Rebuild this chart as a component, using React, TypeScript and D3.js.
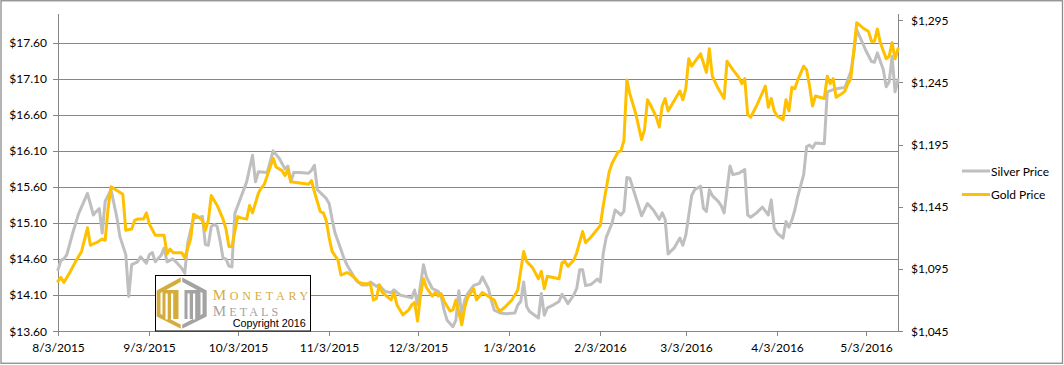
import React from "react";
import * as d3 from "d3";

const silverPrices: [string, number][] = [
  ["2015-08-03", 14.45], ["2015-08-04", 14.58], ["2015-08-05", 14.6], ["2015-08-06", 14.66], ["2015-08-08", 14.96],
  ["2015-08-10", 15.23], ["2015-08-13", 15.51], ["2015-08-15", 15.21], ["2015-08-16", 15.26], ["2015-08-17", 15.3],
  ["2015-08-18", 14.96], ["2015-08-19", 15.4], ["2015-08-21", 15.56], ["2015-08-23", 15.17], ["2015-08-24", 14.91],
  ["2015-08-26", 14.66], ["2015-08-27", 14.08], ["2015-08-28", 14.52], ["2015-08-30", 14.56], ["2015-08-31", 14.63],
  ["2015-09-02", 14.54], ["2015-09-03", 14.66], ["2015-09-04", 14.69], ["2015-09-05", 14.56], ["2015-09-07", 14.65],
  ["2015-09-08", 14.75], ["2015-09-09", 14.56], ["2015-09-11", 14.6], ["2015-09-12", 14.56], ["2015-09-14", 14.47],
  ["2015-09-15", 14.4], ["2015-09-16", 14.82], ["2015-09-18", 15.17], ["2015-09-20", 15.18], ["2015-09-21", 15.19],
  ["2015-09-22", 14.8], ["2015-09-23", 14.79], ["2015-09-24", 15.05], ["2015-09-25", 15.08], ["2015-09-26", 15.05],
  ["2015-09-27", 14.85], ["2015-09-28", 14.61], ["2015-09-29", 14.6], ["2015-09-30", 14.5],
  ["2015-10-01", 14.49], ["2015-10-02", 15.23], ["2015-10-04", 15.45], ["2015-10-06", 15.67], ["2015-10-08", 16.04],
  ["2015-10-09", 15.67], ["2015-10-10", 15.81], ["2015-10-13", 15.8], ["2015-10-15", 16.1], ["2015-10-17", 16.0],
  ["2015-10-19", 15.85], ["2015-10-20", 15.89], ["2015-10-21", 15.67], ["2015-10-22", 15.8], ["2015-10-24", 15.8],
  ["2015-10-27", 15.79], ["2015-10-28", 15.83], ["2015-10-29", 15.9], ["2015-10-30", 15.56], ["2015-10-31", 15.52],
  ["2015-11-02", 15.44], ["2015-11-03", 15.37], ["2015-11-04", 15.15], ["2015-11-05", 14.96], ["2015-11-07", 14.73],
  ["2015-11-08", 14.61], ["2015-11-09", 14.52], ["2015-11-11", 14.38], ["2015-11-12", 14.31], ["2015-11-14", 14.24],
  ["2015-11-16", 14.24], ["2015-11-17", 14.28], ["2015-11-19", 14.22], ["2015-11-20", 14.24], ["2015-11-21", 14.19],
  ["2015-11-22", 14.15], ["2015-11-24", 14.13], ["2015-11-25", 14.17], ["2015-11-27", 14.1], ["2015-11-30", 14.07],
  ["2015-12-01", 14.06], ["2015-12-02", 14.17], ["2015-12-03", 13.96], ["2015-12-05", 14.52], ["2015-12-06", 14.35],
  ["2015-12-08", 14.19], ["2015-12-10", 14.15], ["2015-12-11", 14.08], ["2015-12-12", 13.89], ["2015-12-13", 13.75],
  ["2015-12-15", 13.66], ["2015-12-16", 13.75], ["2015-12-17", 14.16], ["2015-12-18", 13.82], ["2015-12-19", 14.03],
  ["2015-12-20", 14.12], ["2015-12-22", 14.23], ["2015-12-24", 14.26], ["2015-12-25", 14.35], ["2015-12-27", 14.19],
  ["2015-12-28", 14.03], ["2015-12-29", 13.89], ["2015-12-31", 13.85],
  ["2016-01-02", 13.84], ["2016-01-05", 13.85], ["2016-01-06", 13.96], ["2016-01-07", 14.01], ["2016-01-08", 14.28],
  ["2016-01-09", 13.94], ["2016-01-10", 13.87], ["2016-01-13", 13.78], ["2016-01-14", 14.12], ["2016-01-15", 13.82],
  ["2016-01-16", 13.92], ["2016-01-18", 13.96], ["2016-01-20", 14.01], ["2016-01-21", 14.11], ["2016-01-22", 14.05],
  ["2016-01-23", 13.98], ["2016-01-25", 14.1], ["2016-01-26", 14.19], ["2016-01-27", 14.45], ["2016-01-28", 14.45],
  ["2016-01-29", 14.23], ["2016-01-31", 14.25],
  ["2016-02-02", 14.32], ["2016-02-03", 14.28], ["2016-02-04", 14.68], ["2016-02-05", 14.9], ["2016-02-07", 15.1],
  ["2016-02-08", 15.28], ["2016-02-10", 15.21], ["2016-02-11", 15.26], ["2016-02-12", 15.73], ["2016-02-13", 15.72],
  ["2016-02-15", 15.46], ["2016-02-17", 15.2], ["2016-02-19", 15.37], ["2016-02-21", 15.28], ["2016-02-23", 15.15],
  ["2016-02-24", 15.24], ["2016-02-25", 15.15], ["2016-02-26", 14.67], ["2016-02-28", 14.75],
  ["2016-03-01", 14.89], ["2016-03-02", 14.79], ["2016-03-03", 14.93], ["2016-03-05", 15.48], ["2016-03-06", 15.56],
  ["2016-03-08", 15.61], ["2016-03-09", 15.3], ["2016-03-10", 15.26], ["2016-03-11", 15.56], ["2016-03-12", 15.48],
  ["2016-03-14", 15.4], ["2016-03-15", 15.34], ["2016-03-16", 15.24], ["2016-03-18", 15.89], ["2016-03-19", 15.77],
  ["2016-03-21", 15.79], ["2016-03-23", 15.84], ["2016-03-24", 15.21], ["2016-03-25", 15.18], ["2016-03-27", 15.24],
  ["2016-03-29", 15.32], ["2016-03-31", 15.21],
  ["2016-04-01", 15.42], ["2016-04-02", 15.03], ["2016-04-03", 14.96], ["2016-04-05", 14.89], ["2016-04-06", 15.12],
  ["2016-04-07", 15.04], ["2016-04-08", 15.14], ["2016-04-09", 15.28], ["2016-04-10", 15.47], ["2016-04-12", 15.77],
  ["2016-04-13", 16.16], ["2016-04-14", 16.18], ["2016-04-15", 16.14], ["2016-04-16", 16.21], ["2016-04-19", 16.2],
  ["2016-04-20", 16.92], ["2016-04-22", 16.95], ["2016-04-24", 16.97], ["2016-04-26", 16.98], ["2016-04-28", 17.2],
  ["2016-04-29", 17.46], ["2016-04-30", 17.78],
  ["2016-05-01", 17.69], ["2016-05-03", 17.5], ["2016-05-05", 17.34], ["2016-05-06", 17.33], ["2016-05-07", 17.46],
  ["2016-05-09", 17.23], ["2016-05-10", 16.99], ["2016-05-11", 17.06], ["2016-05-12", 17.41], ["2016-05-13", 16.92],
  ["2016-05-14", 17.09],
];

const goldPrices: [string, number][] = [
  ["2015-08-03", 1085], ["2015-08-04", 1088], ["2015-08-05", 1084], ["2015-08-07", 1092], ["2015-08-09", 1101],
  ["2015-08-11", 1109], ["2015-08-13", 1128], ["2015-08-14", 1114], ["2015-08-16", 1116], ["2015-08-18", 1119],
  ["2015-08-19", 1118], ["2015-08-20", 1144], ["2015-08-21", 1161], ["2015-08-23", 1158], ["2015-08-25", 1155],
  ["2015-08-26", 1126], ["2015-08-28", 1127], ["2015-08-29", 1134], ["2015-08-30", 1135],
  ["2015-09-01", 1135], ["2015-09-02", 1140], ["2015-09-03", 1131], ["2015-09-05", 1122], ["2015-09-07", 1122],
  ["2015-09-08", 1122], ["2015-09-09", 1107], ["2015-09-10", 1111], ["2015-09-11", 1108], ["2015-09-13", 1108],
  ["2015-09-14", 1108], ["2015-09-15", 1104], ["2015-09-17", 1119], ["2015-09-18", 1139], ["2015-09-20", 1136],
  ["2015-09-21", 1134], ["2015-09-22", 1126], ["2015-09-23", 1134], ["2015-09-24", 1154], ["2015-09-26", 1146],
  ["2015-09-28", 1135], ["2015-09-29", 1127], ["2015-09-30", 1113],
  ["2015-10-01", 1113], ["2015-10-03", 1137], ["2015-10-04", 1136], ["2015-10-06", 1135], ["2015-10-07", 1146],
  ["2015-10-08", 1140], ["2015-10-10", 1156], ["2015-10-11", 1160], ["2015-10-12", 1163], ["2015-10-13", 1170],
  ["2015-10-15", 1184], ["2015-10-16", 1177], ["2015-10-18", 1174], ["2015-10-19", 1170], ["2015-10-20", 1175],
  ["2015-10-21", 1165], ["2015-10-24", 1164], ["2015-10-27", 1163], ["2015-10-28", 1166], ["2015-10-29", 1157],
  ["2015-10-30", 1149], ["2015-10-31", 1141],
  ["2015-11-01", 1140], ["2015-11-02", 1134], ["2015-11-03", 1120], ["2015-11-04", 1109], ["2015-11-06", 1102],
  ["2015-11-07", 1090], ["2015-11-09", 1092], ["2015-11-10", 1091], ["2015-11-12", 1087], ["2015-11-13", 1084],
  ["2015-11-15", 1083], ["2015-11-17", 1083], ["2015-11-18", 1070], ["2015-11-19", 1071], ["2015-11-20", 1082],
  ["2015-11-21", 1076], ["2015-11-24", 1070], ["2015-11-25", 1076], ["2015-11-26", 1066], ["2015-11-28", 1058],
  ["2015-11-30", 1062],
  ["2015-12-01", 1066], ["2015-12-02", 1068], ["2015-12-03", 1053], ["2015-12-04", 1074], ["2015-12-05", 1087],
  ["2015-12-06", 1080], ["2015-12-08", 1073], ["2015-12-09", 1076], ["2015-12-10", 1073], ["2015-12-11", 1075],
  ["2015-12-12", 1069], ["2015-12-14", 1061], ["2015-12-15", 1062], ["2015-12-16", 1070], ["2015-12-18", 1050],
  ["2015-12-19", 1064], ["2015-12-20", 1072], ["2015-12-22", 1079], ["2015-12-23", 1070], ["2015-12-25", 1076],
  ["2015-12-27", 1073], ["2015-12-29", 1070], ["2015-12-30", 1064], ["2015-12-31", 1061],
  ["2016-01-02", 1065], ["2016-01-04", 1070], ["2016-01-06", 1078], ["2016-01-08", 1109], ["2016-01-09", 1101],
  ["2016-01-11", 1096], ["2016-01-13", 1087], ["2016-01-14", 1093], ["2016-01-15", 1079], ["2016-01-16", 1089],
  ["2016-01-18", 1088], ["2016-01-20", 1087], ["2016-01-21", 1100], ["2016-01-22", 1101], ["2016-01-23", 1097],
  ["2016-01-25", 1102], ["2016-01-26", 1108], ["2016-01-28", 1125], ["2016-01-29", 1116], ["2016-01-31", 1121],
  ["2016-02-02", 1127], ["2016-02-03", 1130], ["2016-02-04", 1146], ["2016-02-06", 1173], ["2016-02-07", 1180],
  ["2016-02-09", 1189], ["2016-02-10", 1190], ["2016-02-11", 1198], ["2016-02-12", 1247], ["2016-02-13", 1236],
  ["2016-02-15", 1220], ["2016-02-17", 1199], ["2016-02-18", 1207], ["2016-02-19", 1231], ["2016-02-20", 1227],
  ["2016-02-22", 1217], ["2016-02-23", 1209], ["2016-02-24", 1226], ["2016-02-25", 1232], ["2016-02-26", 1222],
  ["2016-02-28", 1230],
  ["2016-03-01", 1238], ["2016-03-02", 1231], ["2016-03-03", 1240], ["2016-03-04", 1264], ["2016-03-05", 1258],
  ["2016-03-08", 1268], ["2016-03-10", 1253], ["2016-03-11", 1272], ["2016-03-12", 1250], ["2016-03-14", 1240],
  ["2016-03-16", 1232], ["2016-03-17", 1262], ["2016-03-19", 1255], ["2016-03-21", 1249], ["2016-03-22", 1244],
  ["2016-03-23", 1248], ["2016-03-24", 1219], ["2016-03-25", 1217], ["2016-03-27", 1226], ["2016-03-30", 1242],
  ["2016-03-31", 1225],
  ["2016-04-01", 1232], ["2016-04-02", 1222], ["2016-04-03", 1218], ["2016-04-05", 1215], ["2016-04-06", 1231],
  ["2016-04-07", 1222], ["2016-04-08", 1241], ["2016-04-09", 1240], ["2016-04-10", 1247], ["2016-04-12", 1258],
  ["2016-04-13", 1255], ["2016-04-14", 1242], ["2016-04-15", 1226], ["2016-04-16", 1234], ["2016-04-19", 1232],
  ["2016-04-20", 1250], ["2016-04-21", 1244], ["2016-04-22", 1248], ["2016-04-23", 1233], ["2016-04-25", 1236],
  ["2016-04-26", 1238], ["2016-04-27", 1244], ["2016-04-28", 1248], ["2016-04-30", 1293],
  ["2016-05-02", 1289], ["2016-05-04", 1286], ["2016-05-05", 1278], ["2016-05-06", 1278], ["2016-05-07", 1288],
  ["2016-05-08", 1277], ["2016-05-10", 1264], ["2016-05-11", 1266], ["2016-05-12", 1277], ["2016-05-13", 1264],
  ["2016-05-14", 1272],
];

const xTickLabels = ["8/3/2015", "9/3/2015", "10/3/2015", "11/3/2015", "12/3/2015", "1/3/2016", "2/3/2016", "3/3/2016", "4/3/2016", "5/3/2016"];
const silverTicks = [13.6, 14.1, 14.6, 15.1, 15.6, 16.1, 16.6, 17.1, 17.6];
const goldTicks = [1045, 1095, 1145, 1195, 1245, 1295];
const seriesNames = ["Silver Price", "Gold Price"];
const seriesColors = ["#bfbfbf", "#ffc000"];

const FONT = "Lato, 'Liberation Sans', sans-serif";
const SERIF = "'Liberation Serif', 'DejaVu Serif', serif";

export default function App() {
  const W = 1064;
  const H = 365;
  const parse = d3.utcParse("%Y-%m-%d");
  const parseTick = d3.utcParse("%m/%d/%Y");
  const ext = d3.extent(silverPrices, (d) => parse(d[0]) as Date) as [Date, Date];
  const x = d3.scaleUtc().domain(ext).range([58, 898]);
  const yL = d3.scaleLinear().domain([13.6, 18.0]).range([331, 14]);
  const yR = d3.scaleLinear().domain([1045, 1300]).range([331, 14]);
  const fmtL = d3.format("$.2f");
  const fmtR = d3.format("$,.0f");

  const silverLine = d3
    .line<[string, number]>()
    .x((d) => x(parse(d[0]) as Date))
    .y((d) => yL(d[1]));
  const goldLine = d3
    .line<[string, number]>()
    .x((d) => x(parse(d[0]) as Date))
    .y((d) => yR(d[1]));

  const [x0, x1] = x.range();
  const axisColor = "#868686";

  const hx = 181.5;
  const hexL = `M${hx},277 L156.7,290.5 L156.7,316.5 L${hx},329 Z`;
  const hexR = `M${hx},277 L206.7,290.5 L206.7,316.5 L${hx},329 Z`;
  const hexIn = `M${hx},281.5 L160.5,293 L160.5,314 L${hx},325 L202.5,314 L202.5,293 Z`;

  return (
    <div style={{ position: "absolute", left: 0, top: 0 }}>
      <svg width={W} height={H} style={{ display: "block" }} fontFamily={FONT}>
        <rect x={0} y={0} width={W} height={H} fill="#fff" />
        <rect x={1} y={0.75} width={1061.5} height={362.5} fill="none" stroke="#8c8c8c" strokeWidth={1.3} />

        {silverTicks.map((t) => (
          <line key={"g" + t} x1={53} x2={x1} y1={Math.round(yL(t)) + 0.5} y2={Math.round(yL(t)) + 0.5} stroke={axisColor} strokeWidth={1} />
        ))}
        <line x1={x0 + 0.5} x2={x0 + 0.5} y1={14} y2={331} stroke={axisColor} strokeWidth={1} />
        {silverTicks.map((t) => (
          <text key={"l" + t} x={47} y={yL(t)} textAnchor="end" dominantBaseline="central" fontSize={12} fill="#000">
            {fmtL(t)}
          </text>
        ))}
        <line x1={x1 + 0.5} x2={x1 + 0.5} y1={14} y2={331.5} stroke={axisColor} strokeWidth={1} />
        {goldTicks.map((t) => (
          <g key={"r" + t}>
            <line x1={x1} x2={x1 + 5} y1={Math.round(yR(t)) + 0.5} y2={Math.round(yR(t)) + 0.5} stroke={axisColor} strokeWidth={1} />
            <text x={911} y={yR(t)} textAnchor="start" dominantBaseline="central" fontSize={12} fill="#000">
              {fmtR(t)}
            </text>
          </g>
        ))}
        {xTickLabels.map((lbl) => {
          const xv = Math.round(x(parseTick(lbl) as Date)) + 0.5;
          return (
            <g key={"x" + lbl}>
              <line x1={xv} x2={xv} y1={331} y2={336} stroke={axisColor} strokeWidth={1} />
              <text x={xv} y={352} textAnchor="middle" fontSize={12} fill="#000">
                {lbl}
              </text>
            </g>
          );
        })}

        <path d={silverLine(silverPrices) || ""} fill="none" stroke={seriesColors[0]} strokeWidth={3} strokeLinejoin="round" strokeLinecap="round" />
        <path d={goldLine(goldPrices) || ""} fill="none" stroke={seriesColors[1]} strokeWidth={3} strokeLinejoin="round" strokeLinecap="round" />

        {seriesNames.map((n, i) => {
          const ly = 171 + i * 23.5;
          return (
            <g key={n}>
              <line x1={962} x2={990} y1={ly} y2={ly} stroke={seriesColors[i]} strokeWidth={3} />
              <text x={991} y={ly} dominantBaseline="central" fontSize={12} fill="#000">
                {n}
              </text>
            </g>
          );
        })}

        <rect x={155.5} y={275.5} width={155} height={55.5} fill="#fff" stroke="#000" strokeWidth={1} />
        <path d={hexL} fill="#d4ac3c" />
        <path d={hexR} fill="#a3a3a3" />
        <path d={hexIn} fill="#fff" />
        <rect x={162.5} y={290} width={16} height={29} fill="#d4ac3c" />
        <rect x={165.5} y={293.5} width={2.2} height={26} fill="#fff" />
        <rect x={171} y={293.5} width={2.2} height={26} fill="#fff" />
        <rect x={184.5} y={290} width={16} height={29} fill="#a3a3a3" />
        <rect x={187.5} y={293.5} width={2.2} height={26} fill="#fff" />
        <rect x={193} y={293.5} width={2.2} height={26} fill="#fff" />
        <line x1={hx} x2={hx} y1={277} y2={329} stroke="#fff" strokeWidth={1.5} />
        <text x={212.7} y={299.5} fill="#d4ac3c" fontFamily={SERIF} textLength={95.5} lengthAdjust="spacing">
          <tspan fontSize={15}>M</tspan>
          <tspan fontSize={12}>ONETARY</tspan>
        </text>
        <text x={212.7} y={316} fill="#a3a3a3" fontFamily={SERIF} textLength={65.5} lengthAdjust="spacing">
          <tspan fontSize={15}>M</tspan>
          <tspan fontSize={12}>ETALS</tspan>
        </text>
        <text x={232.7} y={327.3} fill="#000" fontSize={11} fontFamily="'Liberation Sans', Arial, sans-serif" textLength={73} lengthAdjust="spacingAndGlyphs">
          Copyright 2016
        </text>
      </svg>
    </div>
  );
}
